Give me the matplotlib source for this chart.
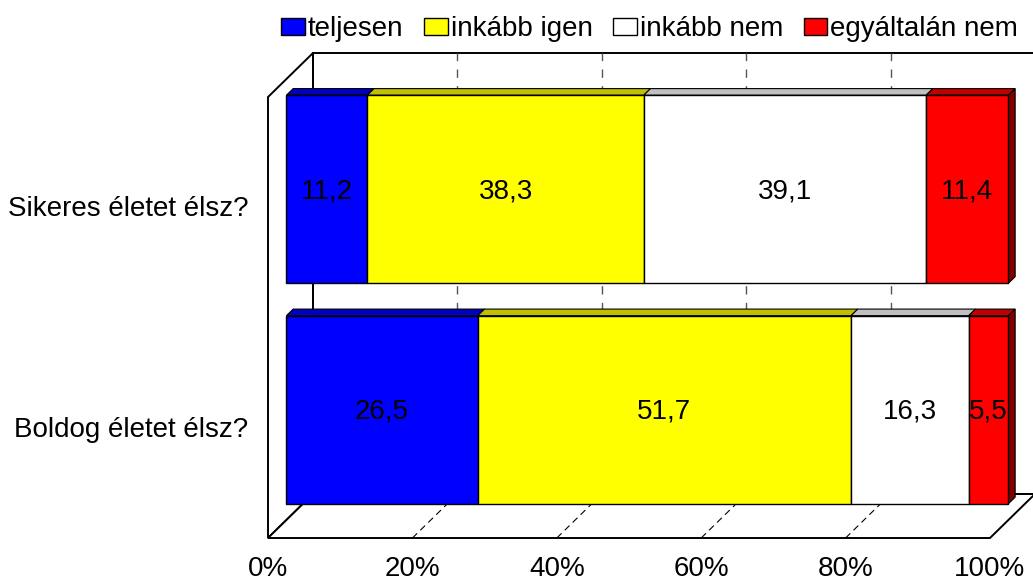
import matplotlib.pyplot as plt
from matplotlib.patches import Polygon, Patch

plt.rcParams['font.family'] = ['Liberation Sans', 'DejaVu Sans']

# survey answers, percent
categories = ['Boldog életet élsz?', 'Sikeres életet élsz?']
answers = ['teljesen', 'inkább igen', 'inkább nem', 'egyáltalán nem']
values = {
    'Boldog életet élsz?': [26.5, 51.7, 16.3, 5.5],
    'Sikeres életet élsz?': [11.2, 38.3, 39.1, 11.4],
}
xticks = [0, 20, 40, 60, 80, 100]

front_colors = ['#0000FF', '#FFFF00', '#FFFFFF', '#FF0000']
top_colors = ['#0000C0', '#C0C000', '#C0C0C0', '#C00000']
side_colors = ['#000080', '#808000', '#808080', '#800000']

# depth direction of the fake 3d box, in data units
DX, DY = 6.23, 0.1995
bar_h = 0.853
d_front, d_back = 0.41, 0.56


def proj(u, v, d):
    return (u + d * DX, v + d * DY)


fig = plt.figure(figsize=(10.33, 5.81), dpi=100)
ax = fig.add_axes([0, 0, 1, 1])
ax.set_xlim(-37.12, 105.96)
ax.set_ylim(-0.695, 1.940)
ax.axis('off')

y0, y1 = -0.5, len(categories) - 0.5
wall_kw = dict(facecolor='white', edgecolor='black', linewidth=1.4, zorder=1)

# back wall, left wall, floor
ax.add_patch(Polygon([proj(0, y0, 1), proj(100, y0, 1), proj(100, y1, 1), proj(0, y1, 1)], **wall_kw))
ax.add_patch(Polygon([proj(0, y0, 0), proj(0, y1, 0), proj(0, y1, 1), proj(0, y0, 1)], **wall_kw))
ax.add_patch(Polygon([proj(0, y0, 0), proj(100, y0, 0), proj(100, y0, 1), proj(0, y0, 1)], **wall_kw))

for t in xticks[1:-1]:
    bx, by0 = proj(t, y0, 1)
    _, by1 = proj(t, y1, 1)
    ax.plot([bx, bx], [by0, by1], color='#555555', lw=1, ls=(0, (6, 6)), zorder=2)
    fx, fy = proj(t, y0, 0)
    ax.plot([fx, bx], [fy, by0], color='black', lw=0.8, ls=(0, (6, 4)), zorder=2)

# stacked bars
for i, cat in enumerate(categories):
    left = 0
    vals = values[cat]
    for j, v in enumerate(vals):
        fx, fy = proj(left, i, d_front)
        ax.barh(fy, v, height=bar_h, left=fx, color=front_colors[j],
                edgecolor='black', linewidth=1, zorder=5)
        top = i + bar_h / 2
        ax.add_patch(Polygon([proj(left, top, d_front), proj(left + v, top, d_front),
                              proj(left + v, top, d_back), proj(left, top, d_back)],
                             facecolor=top_colors[j], edgecolor='black', linewidth=0.8, zorder=4))
        if j == len(vals) - 1:
            bot = i - bar_h / 2
            ax.add_patch(Polygon([proj(left + v, bot, d_front), proj(left + v, top, d_front),
                                  proj(left + v, top, d_back), proj(left + v, bot, d_back)],
                                 facecolor=side_colors[j], edgecolor='black', linewidth=0.8, zorder=4))
        ax.text(fx + v / 2, fy - 0.01, f'{v:.1f}'.replace('.', ','), ha='center', va='center',
                fontsize=20, zorder=6)
        left += v

# axis labels
for i, cat in enumerate(categories):
    ax.text(-2.7, i - 0.01, cat, ha='right', va='center', fontsize=20)
for t in xticks:
    ax.text(t, y0 - 0.14, f'{t}%', ha='center', va='center', fontsize=20)

handles = [Patch(facecolor=c, edgecolor='black', linewidth=1) for c in front_colors]
fig.legend(handles, answers, loc='upper center', bbox_to_anchor=(0.629, 1.015), ncol=4,
           frameon=False, fontsize=20, handlelength=0.85, handleheight=0.6,
           handletextpad=0.1, columnspacing=0.75)

fig.savefig('out.png', dpi=100)
